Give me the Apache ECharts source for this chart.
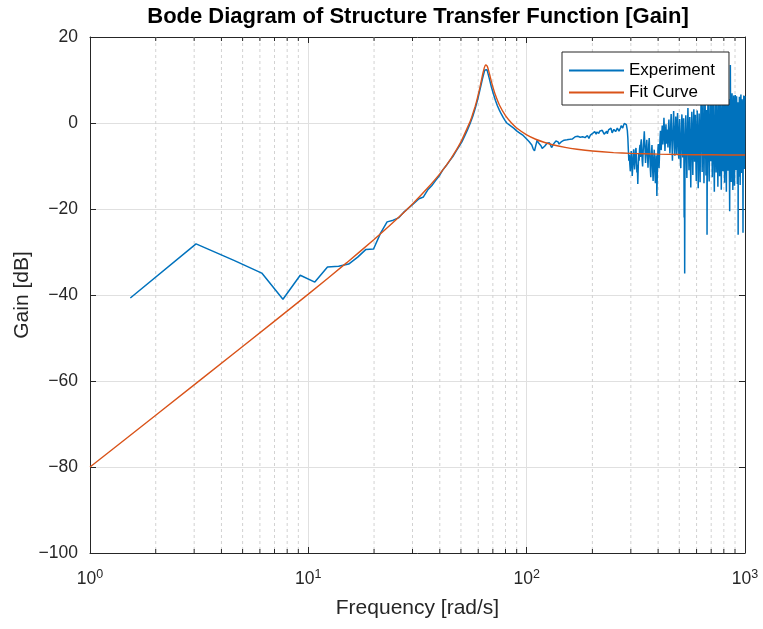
<!DOCTYPE html>
<html>
<head>
<meta charset="utf-8">
<script src="https://cdn.jsdelivr.net/npm/echarts@6/dist/echarts.min.js"></script>
<style>
  html, body { margin: 0; padding: 0; background: #ffffff; }
  #chart { width: 763px; height: 629px; }
</style>
</head>
<body>
<div id="chart"></div>
<script>
// Measured gain [dB] of the structure, one value per frequency bin (bin k sits at k * FREQ_STEP rad/s)
const FREQ_STEP = 1.53;
const expGain = [
  -40.7, -28.1, -32.0, -34.9, -41.0, -35.4, -37.0, -33.5, -33.3, -32.8,
  -31.2, -29.4, -29.3, -25.6, -23.0, -22.6, -22.0, -20.6, -19.6, -18.6,
  -17.6, -17.2, -15.6, -14.6, -13.4, -12.3, -10.9, -9.9, -8.8, -7.8,
  -6.6, -5.5, -4.4, -3.0, -1.6, -0.1, 1.5, 3.4, 5.5, 7.9,
  10.3, 12.3, 12.4, 10.5, 8.5, 6.8, 5.3, 4.0, 3.0, 2.1,
  1.3, 0.6, 0.0, -0.4, -0.6, -0.9, -1.2, -1.5, -1.9, -2.2,
  -2.4, -2.6, -2.9, -3.3, -3.6, -3.9, -4.3, -4.7, -5.1, -6.0,
  -6.5, -5.2, -4.0, -4.6, -4.5, -5.3, -5.9, -6.1, -5.4, -5.2,
  -4.7, -4.5, -4.6, -5.1, -5.7, -5.3, -4.8, -4.5, -4.2, -4.3,
  -4.4, -4.9, -4.7, -4.4, -4.1, -4.2, -4.0, -3.8, -3.7, -3.9,
  -4.1, -4.0, -3.8, -3.6, -3.9, -3.7, -3.4, -3.5, -3.2, -3.4,
  -3.6, -3.1, -2.8, -3.0, -3.3, -3.1, -2.9, -3.2, -3.5, -3.3,
  -3.4, -3.7, -3.3, -2.9, -3.1, -3.6, -3.4, -2.8, -2.5, -2.7,
  -2.4, -2.6, -2.2, -2.0, -2.3, -2.6, -2.1, -1.8, -2.0, -2.4,
  -1.9, -1.6, -1.9, -2.3, -1.7, -1.5, -2.0, -2.6, -3.0, -2.7,
  -2.2, -1.9, -2.5, -2.1, -1.6, -1.3, -1.9, -1.5, -1.2, -1.6,
  -2.3, -2.7, -2.2, -1.5, -1.1, -1.4, -2.0, -2.4, -1.8, -1.2,
  -0.9, -1.3, -1.9, -2.3, -1.7, -1.1, -0.6, -0.4, -0.8, -1.2,
  -0.7, -0.3, -0.1, -0.5, -0.2, 0.1, -0.4, -0.6, -1.8, -3.5,
  -6.2, -8.8, -7.4, -9.6, -11.2, -8.3, -6.5, -9.0, -12.3, -10.1,
  -7.6, -6.1, -8.9, -10.8, -9.2, -6.4, -5.8, -8.1, -11.5, -9.7,
  -14.2, -10.3, -7.2, -8.8, -6.0, -5.1, -7.9, -4.6, -3.8, -6.3,
  -8.7, -10.1, -7.4, -5.2, -3.6, -1.9, -4.4, -6.8, -9.3, -7.0,
  -5.5, -3.9, -6.6, -8.2, -10.4, -7.7, -4.8, -3.5, -5.9, -8.4,
  -10.9, -12.6, -9.0, -6.7, -5.1, -7.8, -11.3, -13.5, -10.2, -8.0,
  -6.2, -9.4, -12.1, -14.0, -11.0, -7.5, -9.8, -17.0, -12.8, -8.6,
  -6.0, -4.9, -7.3, -10.5, -8.1, -5.4, -3.2, -1.8, -4.0, -6.3,
  -4.7, -2.3, -0.6, -2.9, -5.0, -3.6, -1.2, 1.2, -0.9, -3.4,
  -6.5, -4.1, -2.0, -0.3, -2.6, -4.8, -3.0, -1.5, -3.9, -5.7,
  -2.8, -0.5, 0.8, -1.9, -4.4, -7.1, -5.2, -2.4, 0.4, 2.1,
  -0.8, -3.7, -6.0, -8.8, -5.3, -2.2, 0.9, 2.8, -0.4, -3.1,
  -5.8, -7.6, -4.0, -1.3, 1.5, -1.0, -4.6, -7.2, -3.5, -0.2,
  2.3, -0.7, -3.9, -6.4, -8.3, -4.2, -1.6, 0.9, -2.5, -5.9,
  -9.1, -10.5, -6.8, -3.0, 0.2, 2.0, -1.4, -4.9, -8.0, -5.6,
  -2.1, 1.1, -2.7, -22.0, -6.5, -35.0, -9.8, -4.1, -0.6, 1.8,
  -1.9, -5.3, -9.2, -12.8, -7.5, -3.1, 0.7, 3.5, 0.2, -3.8,
  -7.9, -11.0, -6.4, -2.2, 1.4, -1.7, -5.6, -9.7, -15.0, -8.3,
  -4.0, -0.8, 2.6, -0.5, -4.7, -8.8, -12.1, -6.9, -2.9, 0.6,
  3.2, -1.1, -5.0, -9.0, -6.2, -2.4, 1.9, -1.6, -6.7, -10.8,
  -13.5, -7.8, -3.3, 0.1, 2.9, -0.9, -4.4, -8.5, -15.2, -9.9,
  -5.1, -1.4, 2.2, -2.0, -6.1, -10.2, -13.8, -8.0, -3.6, 0.8,
  4.1, 6.7, 1.9, -2.3, -6.9, -11.4, -7.2, -2.7, 2.4, 5.5,
  0.6, -3.9, -8.6, -14.0, -9.1, -4.3, 0.3, 4.8, 6.2, 1.0,
  -3.2, -7.5, -12.2, -6.6, -1.8, 3.0, -0.4, -26.0, -10.7, -5.0,
  -0.1, 4.4, 6.5, 2.1, -2.6, -7.0, -11.9, -13.6, -7.7, -2.9,
  1.6, 5.0, 0.5, -4.2, -8.9, -5.4, -1.0, 3.6, 6.0, 1.3,
  -3.4, -8.1, -12.6, -9.3, -4.5, 0.2, 4.7, 6.6, 1.8, -2.8,
  -7.6, -12.3, -16.0, -10.1, -5.3, -0.7, 3.9, 6.4, 2.0, -2.5,
  -6.9, -11.5, -7.1, -2.6, 1.9, 5.8, 2.7, -1.9, -6.3, -10.9,
  -14.8, -9.4, -4.6, -0.2, 4.3, 6.7, 1.4, -3.1, -7.8, -12.4,
  -8.2, -3.7, 0.8, 5.2, 3.0, -1.5, -6.0, -10.6, -15.5, -9.8,
  -5.2, -0.6, 3.8, 6.5, 2.2, -2.3, -6.8, -11.2, -7.4, -2.9,
  1.5, 5.9, 4.0, -0.5, -5.1, -9.6, -13.9, -8.6, -4.0, 0.6,
  4.9, 6.8, 1.7, -2.9, -7.4, -12.0, -16.0, -10.4, -5.7, -1.1,
  3.4, 6.1, 2.5, -1.8, -6.6, -11.1, -7.0, -2.4, 2.0, 5.6,
  3.1, -1.4, -5.9, -10.3, -14.5, -20.5, -9.2, -4.5, 0.1, 13.5,
  4.6, -0.2, -4.8, -9.5, -13.7, -8.4, -3.7, 0.9, 5.4, 6.9,
  2.3, -2.2, -6.8, -11.4, -15.6, -9.6, -4.8, -0.1, 4.5, 6.4,
  1.8, -2.7, -7.2, -11.8, -14.6, -8.9, -4.2, 0.4, 5.0, 6.5,
  2.6, -1.9, -6.4, -10.9, -6.1, -1.6, 2.9, 6.2, 3.4, -1.1,
  -5.6, -10.1, -14.2, -9.0, -4.3, 0.3, 4.8, -26.0, 1.2, -3.4,
  -7.9, -12.5, -7.6, -3.0, 1.6, 6.1, 3.7, -0.8, -5.3, -9.8,
  -14.4, -9.3, -4.6, 0.0, 4.6, 6.6, 2.0, -2.5, -7.0, -11.6,
  -8.2, -3.5, 1.0, 5.5, 4.1, -0.4, -4.9, -9.4, -13.9, -25.5,
  -10.8, -6.0, -1.4, 3.2, 6.4, 2.8, -1.7, -6.2, -10.7, -5.0,
  -0.5, 4.0, 6.3
];

// Fitted second-order model, sampled [rad/s] and [dB]
const fitFreq = [1, 2, 5, 10, 15, 20, 25, 30, 35, 40, 45, 50, 55, 56, 58, 59, 60, 61, 62, 63, 64, 64.5,
  65, 65.5, 66, 67, 68, 69, 70, 72, 75, 80, 85, 90, 100, 110, 120, 130, 150, 170, 200, 250, 300, 400, 500, 700, 1000];
const fitGain = [-80.0, -67.95, -51.99, -39.79, -32.48, -27.09, -22.69, -18.83, -15.24, -11.82, -8.26, -4.38, 0.26, 1.34, 3.74, 5.09, 6.56, 8.15, 9.83, 11.51, 12.88, 13.32,
  13.51, 13.45, 13.17, 12.13, 10.84, 9.57, 8.40, 6.43, 4.20, 1.70, 0.04, -1.16, -2.76, -3.78, -4.48, -5.0, -5.68, -6.11, -6.52, -6.88, -7.06, -7.24, -7.33, -7.40, -7.45];

// Axis ticks
const yTicks = [-100, -80, -60, -40, -20, 0, 20];
const xDecades = [1, 10, 100, 1000];
const xMinor = [2, 3, 4, 5, 6, 7, 8, 9, 20, 30, 40, 50, 60, 70, 80, 90, 200, 300, 400, 500, 600, 700, 800, 900];

const FONT = '"Liberation Sans", Arial, Helvetica, sans-serif';
const INK = '#262626';
const GRID = '#e0e0e0';
const MINOR_GRID = '#d2d2d2';
const BLUE = '#0072BD';
const ORANGE = '#D95319';

const chart = echarts.init(document.getElementById('chart'), null, { renderer: 'canvas' });

const expData = expGain.map((g, i) => [(i + 1) * FREQ_STEP, g]);
const fitData = fitFreq.map((f, i) => [f, fitGain[i]]);
const yMin = yTicks[0], yMax = yTicks[yTicks.length - 1];

const logAxisBase = {
  type: 'log', logBase: 10, min: xDecades[0], max: xDecades[xDecades.length - 1],
  axisLine: { show: true, onZero: false, lineStyle: { color: INK, width: 1 } },
  axisTick: { show: true, inside: true, length: 6, lineStyle: { color: INK } },
};
const valAxisBase = {
  type: 'value', min: yMin, max: yMax, interval: 20,
  axisLine: { show: true, onZero: false, lineStyle: { color: INK, width: 1 } },
  axisTick: { show: true, inside: true, length: 6, lineStyle: { color: INK } },
};

chart.setOption({
  animation: false,
  backgroundColor: '#ffffff',
  textStyle: { fontFamily: FONT },
  grid: { left: 90, right: 18, top: 37, bottom: 76, containLabel: false },
  graphic: [{
    type: 'text', x: 418, y: 17, z: 10,
    style: {
      text: 'Bode Diagram of Structure Transfer Function [Gain]',
      font: 'bold 22px ' + FONT, fill: '#000000',
      textAlign: 'center', textVerticalAlign: 'middle'
    }
  }],
  legend: {
    orient: 'vertical', left: 562, top: 52,
    itemWidth: 55, itemHeight: 14, itemGap: 5,
    padding: [10, 14, 4, 6],
    borderColor: INK, borderWidth: 1, backgroundColor: '#ffffff',
    itemStyle: { opacity: 0 },
    textStyle: { fontSize: 17, color: '#000000', fontFamily: FONT },
    data: ['Experiment', 'Fit Curve']
  },
  xAxis: [
    Object.assign({}, logAxisBase, {
      position: 'bottom',
      name: 'Frequency [rad/s]', nameLocation: 'middle', nameGap: 45, nameMoveOverlap: false,
      nameTextStyle: { fontSize: 21, color: INK, fontFamily: FONT },
      axisLabel: {
        margin: 15,
        formatter: v => '{b|10}{s|' + Math.round(Math.log10(v)) + '}',
        rich: {
          b: { fontSize: 17.5, color: INK, fontFamily: FONT },
          s: { fontSize: 12.5, color: INK, fontFamily: FONT, padding: [0, 0, 9, 0] }
        }
      },
      splitLine: { show: true, lineStyle: { color: GRID, width: 1 } }
    }),
    Object.assign({}, logAxisBase, {
      position: 'top', axisLabel: { show: false }, splitLine: { show: false }
    })
  ],
  yAxis: [
    Object.assign({}, valAxisBase, {
      position: 'left',
      name: 'Gain [dB]', nameLocation: 'middle', nameGap: 57, nameMoveOverlap: false,
      nameTextStyle: { fontSize: 21, color: INK, fontFamily: FONT },
      axisLabel: {
        margin: 12, fontSize: 17.5, color: INK, fontFamily: FONT,
        formatter: v => String(v).replace('-', '\u2212')
      },
      splitLine: { show: true, lineStyle: { color: GRID, width: 1 } }
    }),
    Object.assign({}, valAxisBase, {
      position: 'right', axisLabel: { show: false }, splitLine: { show: false }
    })
  ],
  series: [
    {
      // dotted minor grid at 2..9 of every decade, plus the small inward ticks
      type: 'custom', name: 'minor', silent: true, z: 1,
      xAxisIndex: 0, yAxisIndex: 0,
      data: xMinor.map(f => [f, 0]),
      renderItem: (params, api) => {
        const f = api.value(0);
        const top = api.coord([f, yMax]);
        const bot = api.coord([f, yMin]);
        return {
          type: 'group',
          children: [
            { type: 'line', shape: { x1: top[0], y1: top[1], x2: bot[0], y2: bot[1] },
              style: { stroke: MINOR_GRID, lineWidth: 1, lineDash: [3, 3] } },
            { type: 'line', shape: { x1: bot[0], y1: bot[1], x2: bot[0], y2: bot[1] - 4 },
              style: { stroke: INK, lineWidth: 1 } },
            { type: 'line', shape: { x1: top[0], y1: top[1], x2: top[0], y2: top[1] + 4 },
              style: { stroke: INK, lineWidth: 1 } }
          ]
        };
      }
    },
    {
      name: 'Experiment', type: 'line', data: expData,
      xAxisIndex: 0, yAxisIndex: 0, z: 3,
      symbol: 'none', showSymbol: false,
      lineStyle: { color: BLUE, width: 1.5 },
      itemStyle: { color: BLUE }
    },
    {
      name: 'Fit Curve', type: 'line', data: fitData,
      xAxisIndex: 0, yAxisIndex: 0, z: 4,
      symbol: 'none', showSymbol: false, smooth: 0.2,
      lineStyle: { color: ORANGE, width: 1.4 },
      itemStyle: { color: ORANGE }
    }
  ]
});
</script>
</body>
</html>
